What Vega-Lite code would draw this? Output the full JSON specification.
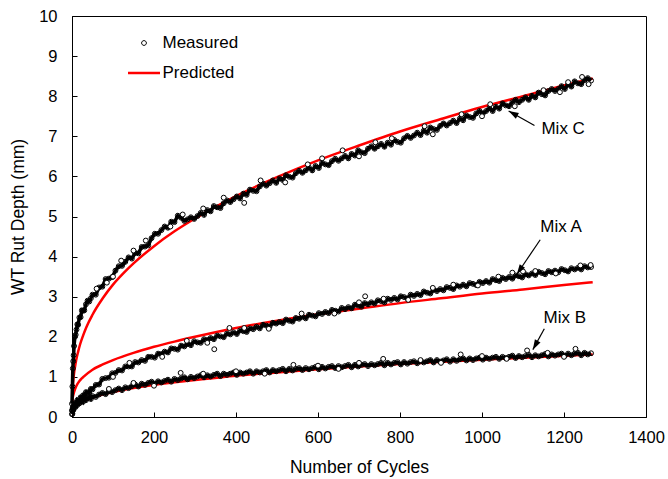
{
"$schema": "https://vega.github.io/schema/vega-lite/v6.json",
"width": 574, "height": 401,
"autosize": "none",
"padding": {"left": 72, "top": 16, "right": 22, "bottom": 62},
"background": "white",
"config": {
  "font": "Liberation Sans",
  "view": {"stroke": "black", "strokeWidth": 1},
  "axis": {"grid": false, "domainColor": "black", "tickColor": "black", "labelColor": "black", "titleColor": "black", "titleFontWeight": "normal", "labelFontSize": 16.5, "titleFontSize": 17.5, "tickSize": -5, "labelFlush": false, "labelFont": "Liberation Sans", "titleFont": "Liberation Sans"}
},
"datasets": {
"measured": [
{"s":"C","x":0,"y":0.33},{"s":"C","x":1,"y":0.76},{"s":"C","x":2,"y":1.21},{"s":"C","x":3,"y":1.39},{"s":"C","x":4,"y":1.54},{"s":"C","x":5,"y":1.77},{"s":"C","x":7,"y":2.0},{"s":"C","x":9,"y":2.05},{"s":"C","x":11,"y":2.18},{"s":"C","x":13,"y":2.31},{"s":"C","x":15,"y":2.3},{"s":"C","x":18,"y":2.48},{"s":"C","x":21,"y":2.49},{"s":"C","x":24,"y":2.66},{"s":"C","x":27,"y":2.65},{"s":"C","x":30,"y":2.66},{"s":"C","x":34,"y":2.81},{"s":"C","x":38,"y":2.9},{"s":"C","x":42,"y":2.88},{"s":"C","x":46,"y":2.96},{"s":"C","x":50,"y":3.05},
{"s":"C","x":58,"y":3.05},{"s":"C","x":66,"y":3.23},{"s":"C","x":74,"y":3.25},{"s":"C","x":82,"y":3.44},{"s":"C","x":90,"y":3.45},{"s":"C","x":98,"y":3.49},{"s":"C","x":106,"y":3.65},{"s":"C","x":114,"y":3.76},{"s":"C","x":122,"y":3.77},{"s":"C","x":130,"y":3.87},{"s":"C","x":138,"y":3.98},{"s":"C","x":146,"y":3.95},{"s":"C","x":154,"y":4.09},{"s":"C","x":162,"y":4.08},{"s":"C","x":170,"y":4.24},{"s":"C","x":178,"y":4.25},{"s":"C","x":186,"y":4.28},{"s":"C","x":194,"y":4.46},{"s":"C","x":202,"y":4.57},{"s":"C","x":210,"y":4.57},{"s":"C","x":218,"y":4.66},{"s":"C","x":226,"y":4.75},{"s":"C","x":234,"y":4.72},{"s":"C","x":242,"y":4.87},{"s":"C","x":250,"y":4.86},{"s":"C","x":258,"y":5.02},{"s":"C","x":266,"y":4.97},{"s":"C","x":274,"y":4.89},{"s":"C","x":282,"y":4.93},{"s":"C","x":290,"y":4.98},{"s":"C","x":298,"y":4.94},{"s":"C","x":306,"y":5.01},{"s":"C","x":314,"y":5.09},{"s":"C","x":322,"y":5.04},{"s":"C","x":330,"y":5.16},{"s":"C","x":338,"y":5.13},{"s":"C","x":346,"y":5.26},{"s":"C","x":354,"y":5.23},{"s":"C","x":362,"y":5.21},{"s":"C","x":370,"y":5.33},{"s":"C","x":378,"y":5.4},{"s":"C","x":386,"y":5.36},{"s":"C","x":394,"y":5.43},{"s":"C","x":402,"y":5.5},{"s":"C","x":410,"y":5.45},{"s":"C","x":418,"y":5.57},{"s":"C","x":426,"y":5.54},{"s":"C","x":434,"y":5.67},{"s":"C","x":442,"y":5.64},{"s":"C","x":450,"y":5.63},{"s":"C","x":458,"y":5.75},{"s":"C","x":466,"y":5.82},{"s":"C","x":474,"y":5.77},{"s":"C","x":482,"y":5.83},{"s":"C","x":490,"y":5.9},{"s":"C","x":498,"y":5.84},{"s":"C","x":506,"y":5.95},{"s":"C","x":514,"y":5.91},{"s":"C","x":522,"y":6.03},{"s":"C","x":530,"y":5.99},{"s":"C","x":538,"y":5.97},{"s":"C","x":546,"y":6.08},{"s":"C","x":554,"y":6.14},{"s":"C","x":562,"y":6.09},{"s":"C","x":570,"y":6.15},{"s":"C","x":578,"y":6.22},{"s":"C","x":586,"y":6.15},{"s":"C","x":594,"y":6.26},{"s":"C","x":602,"y":6.21},{"s":"C","x":610,"y":6.34},{"s":"C","x":618,"y":6.3},{"s":"C","x":626,"y":6.28},{"s":"C","x":634,"y":6.38},{"s":"C","x":642,"y":6.44},{"s":"C","x":650,"y":6.39},{"s":"C","x":658,"y":6.45},{"s":"C","x":666,"y":6.51},{"s":"C","x":674,"y":6.45},{"s":"C","x":682,"y":6.56},{"s":"C","x":690,"y":6.52},{"s":"C","x":698,"y":6.65},{"s":"C","x":706,"y":6.6},{"s":"C","x":714,"y":6.58},{"s":"C","x":722,"y":6.69},{"s":"C","x":730,"y":6.75},{"s":"C","x":738,"y":6.69},{"s":"C","x":746,"y":6.75},{"s":"C","x":754,"y":6.81},{"s":"C","x":762,"y":6.74},{"s":"C","x":770,"y":6.84},{"s":"C","x":778,"y":6.79},{"s":"C","x":786,"y":6.91},{"s":"C","x":794,"y":6.86},{"s":"C","x":802,"y":6.84},{"s":"C","x":810,"y":6.95},{"s":"C","x":818,"y":7.01},{"s":"C","x":826,"y":6.96},{"s":"C","x":834,"y":7.02},{"s":"C","x":842,"y":7.09},{"s":"C","x":850,"y":7.03},{"s":"C","x":858,"y":7.14},{"s":"C","x":866,"y":7.09},{"s":"C","x":874,"y":7.22},{"s":"C","x":882,"y":7.18},{"s":"C","x":890,"y":7.16},{"s":"C","x":898,"y":7.26},{"s":"C","x":906,"y":7.32},{"s":"C","x":914,"y":7.27},{"s":"C","x":922,"y":7.33},{"s":"C","x":930,"y":7.39},{"s":"C","x":938,"y":7.33},{"s":"C","x":946,"y":7.44},{"s":"C","x":954,"y":7.4},{"s":"C","x":962,"y":7.52},{"s":"C","x":970,"y":7.48},{"s":"C","x":978,"y":7.46},{"s":"C","x":986,"y":7.57},{"s":"C","x":994,"y":7.63},{"s":"C","x":1002,"y":7.57},{"s":"C","x":1010,"y":7.63},{"s":"C","x":1018,"y":7.7},{"s":"C","x":1026,"y":7.63},{"s":"C","x":1034,"y":7.74},{"s":"C","x":1042,"y":7.69},{"s":"C","x":1050,"y":7.82},{"s":"C","x":1058,"y":7.77},{"s":"C","x":1066,"y":7.75},{"s":"C","x":1074,"y":7.85},{"s":"C","x":1082,"y":7.91},{"s":"C","x":1090,"y":7.85},{"s":"C","x":1098,"y":7.91},{"s":"C","x":1106,"y":7.97},{"s":"C","x":1114,"y":7.91},{"s":"C","x":1122,"y":8.01},{"s":"C","x":1130,"y":7.97},{"s":"C","x":1138,"y":8.09},{"s":"C","x":1146,"y":8.05},{"s":"C","x":1154,"y":8.02},{"s":"C","x":1162,"y":8.13},{"s":"C","x":1170,"y":8.18},{"s":"C","x":1178,"y":8.13},{"s":"C","x":1186,"y":8.18},{"s":"C","x":1194,"y":8.25},{"s":"C","x":1202,"y":8.18},{"s":"C","x":1210,"y":8.29},{"s":"C","x":1218,"y":8.24},{"s":"C","x":1226,"y":8.37},{"s":"C","x":1234,"y":8.32},{"s":"C","x":1242,"y":8.3},{"s":"C","x":1250,"y":8.4},{"s":"C","x":1258,"y":8.45},{"s":"C","x":1266,"y":8.39},
{"s":"A","x":0,"y":0.17},{"s":"A","x":1,"y":0.15},{"s":"A","x":2,"y":0.24},{"s":"A","x":3,"y":0.23},{"s":"A","x":4,"y":0.21},{"s":"A","x":5,"y":0.3},{"s":"A","x":7,"y":0.29},{"s":"A","x":9,"y":0.35},{"s":"A","x":11,"y":0.33},{"s":"A","x":13,"y":0.42},{"s":"A","x":15,"y":0.4},{"s":"A","x":18,"y":0.39},{"s":"A","x":21,"y":0.49},{"s":"A","x":24,"y":0.48},{"s":"A","x":27,"y":0.54},{"s":"A","x":30,"y":0.52},{"s":"A","x":34,"y":0.62},{"s":"A","x":38,"y":0.61},{"s":"A","x":42,"y":0.6},{"s":"A","x":46,"y":0.7},{"s":"A","x":50,"y":0.69},
{"s":"A","x":58,"y":0.8},{"s":"A","x":66,"y":0.81},{"s":"A","x":74,"y":0.95},{"s":"A","x":82,"y":0.97},{"s":"A","x":90,"y":0.98},{"s":"A","x":98,"y":1.09},{"s":"A","x":106,"y":1.1},{"s":"A","x":114,"y":1.17},{"s":"A","x":122,"y":1.16},{"s":"A","x":130,"y":1.26},{"s":"A","x":138,"y":1.26},{"s":"A","x":146,"y":1.26},{"s":"A","x":154,"y":1.37},{"s":"A","x":162,"y":1.36},{"s":"A","x":170,"y":1.42},{"s":"A","x":178,"y":1.4},{"s":"A","x":186,"y":1.5},{"s":"A","x":194,"y":1.5},{"s":"A","x":202,"y":1.48},{"s":"A","x":210,"y":1.58},{"s":"A","x":218,"y":1.57},{"s":"A","x":226,"y":1.63},{"s":"A","x":234,"y":1.61},{"s":"A","x":242,"y":1.71},{"s":"A","x":250,"y":1.7},{"s":"A","x":258,"y":1.68},{"s":"A","x":266,"y":1.78},{"s":"A","x":274,"y":1.76},{"s":"A","x":282,"y":1.82},{"s":"A","x":290,"y":1.79},{"s":"A","x":298,"y":1.89},{"s":"A","x":306,"y":1.86},{"s":"A","x":314,"y":1.85},{"s":"A","x":322,"y":1.94},{"s":"A","x":330,"y":1.92},{"s":"A","x":338,"y":1.97},{"s":"A","x":346,"y":1.94},{"s":"A","x":354,"y":2.03},{"s":"A","x":362,"y":2.01},{"s":"A","x":370,"y":1.99},{"s":"A","x":378,"y":2.08},{"s":"A","x":386,"y":2.06},{"s":"A","x":394,"y":2.11},{"s":"A","x":402,"y":2.07},{"s":"A","x":410,"y":2.16},{"s":"A","x":418,"y":2.14},{"s":"A","x":426,"y":2.12},{"s":"A","x":434,"y":2.21},{"s":"A","x":442,"y":2.19},{"s":"A","x":450,"y":2.25},{"s":"A","x":458,"y":2.21},{"s":"A","x":466,"y":2.3},{"s":"A","x":474,"y":2.28},{"s":"A","x":482,"y":2.26},{"s":"A","x":490,"y":2.35},{"s":"A","x":498,"y":2.33},{"s":"A","x":506,"y":2.37},{"s":"A","x":514,"y":2.34},{"s":"A","x":522,"y":2.43},{"s":"A","x":530,"y":2.4},{"s":"A","x":538,"y":2.38},{"s":"A","x":546,"y":2.47},{"s":"A","x":554,"y":2.45},{"s":"A","x":562,"y":2.5},{"s":"A","x":570,"y":2.46},{"s":"A","x":578,"y":2.55},{"s":"A","x":586,"y":2.53},{"s":"A","x":594,"y":2.51},{"s":"A","x":602,"y":2.59},{"s":"A","x":610,"y":2.57},{"s":"A","x":618,"y":2.62},{"s":"A","x":626,"y":2.59},{"s":"A","x":634,"y":2.67},{"s":"A","x":642,"y":2.65},{"s":"A","x":650,"y":2.63},{"s":"A","x":658,"y":2.72},{"s":"A","x":666,"y":2.69},{"s":"A","x":674,"y":2.74},{"s":"A","x":682,"y":2.71},{"s":"A","x":690,"y":2.8},{"s":"A","x":698,"y":2.78},{"s":"A","x":706,"y":2.75},{"s":"A","x":714,"y":2.84},{"s":"A","x":722,"y":2.81},{"s":"A","x":730,"y":2.86},{"s":"A","x":738,"y":2.83},{"s":"A","x":746,"y":2.91},{"s":"A","x":754,"y":2.89},{"s":"A","x":762,"y":2.86},{"s":"A","x":770,"y":2.95},{"s":"A","x":778,"y":2.92},{"s":"A","x":786,"y":2.97},{"s":"A","x":794,"y":2.93},{"s":"A","x":802,"y":3.01},{"s":"A","x":810,"y":2.99},{"s":"A","x":818,"y":2.96},{"s":"A","x":826,"y":3.05},{"s":"A","x":834,"y":3.02},{"s":"A","x":842,"y":3.07},{"s":"A","x":850,"y":3.04},{"s":"A","x":858,"y":3.13},{"s":"A","x":866,"y":3.1},{"s":"A","x":874,"y":3.08},{"s":"A","x":882,"y":3.17},{"s":"A","x":890,"y":3.14},{"s":"A","x":898,"y":3.19},{"s":"A","x":906,"y":3.16},{"s":"A","x":914,"y":3.24},{"s":"A","x":922,"y":3.22},{"s":"A","x":930,"y":3.19},{"s":"A","x":938,"y":3.28},{"s":"A","x":946,"y":3.25},{"s":"A","x":954,"y":3.3},{"s":"A","x":962,"y":3.26},{"s":"A","x":970,"y":3.34},{"s":"A","x":978,"y":3.32},{"s":"A","x":986,"y":3.29},{"s":"A","x":994,"y":3.37},{"s":"A","x":1002,"y":3.34},{"s":"A","x":1010,"y":3.39},{"s":"A","x":1018,"y":3.35},{"s":"A","x":1026,"y":3.44},{"s":"A","x":1034,"y":3.41},{"s":"A","x":1042,"y":3.39},{"s":"A","x":1050,"y":3.47},{"s":"A","x":1058,"y":3.44},{"s":"A","x":1066,"y":3.49},{"s":"A","x":1074,"y":3.45},{"s":"A","x":1082,"y":3.53},{"s":"A","x":1090,"y":3.51},{"s":"A","x":1098,"y":3.48},{"s":"A","x":1106,"y":3.56},{"s":"A","x":1114,"y":3.53},{"s":"A","x":1122,"y":3.58},{"s":"A","x":1130,"y":3.54},{"s":"A","x":1138,"y":3.62},{"s":"A","x":1146,"y":3.59},{"s":"A","x":1154,"y":3.56},{"s":"A","x":1162,"y":3.64},{"s":"A","x":1170,"y":3.61},{"s":"A","x":1178,"y":3.65},{"s":"A","x":1186,"y":3.61},{"s":"A","x":1194,"y":3.69},{"s":"A","x":1202,"y":3.66},{"s":"A","x":1210,"y":3.63},{"s":"A","x":1218,"y":3.71},{"s":"A","x":1226,"y":3.68},{"s":"A","x":1234,"y":3.72},{"s":"A","x":1242,"y":3.68},{"s":"A","x":1250,"y":3.76},{"s":"A","x":1258,"y":3.73},{"s":"A","x":1266,"y":3.74},
{"s":"B","x":0,"y":0.07},{"s":"B","x":1,"y":0.08},{"s":"B","x":2,"y":0.16},{"s":"B","x":3,"y":0.22},{"s":"B","x":4,"y":0.19},{"s":"B","x":5,"y":0.26},{"s":"B","x":7,"y":0.25},{"s":"B","x":9,"y":0.3},{"s":"B","x":11,"y":0.34},{"s":"B","x":13,"y":0.3},{"s":"B","x":15,"y":0.36},{"s":"B","x":18,"y":0.34},{"s":"B","x":21,"y":0.39},{"s":"B","x":24,"y":0.43},{"s":"B","x":27,"y":0.38},{"s":"B","x":30,"y":0.45},{"s":"B","x":34,"y":0.42},{"s":"B","x":38,"y":0.47},{"s":"B","x":42,"y":0.5},{"s":"B","x":46,"y":0.45},{"s":"B","x":50,"y":0.52},
{"s":"B","x":58,"y":0.5},{"s":"B","x":66,"y":0.56},{"s":"B","x":74,"y":0.6},{"s":"B","x":82,"y":0.57},{"s":"B","x":90,"y":0.64},{"s":"B","x":98,"y":0.62},{"s":"B","x":106,"y":0.67},{"s":"B","x":114,"y":0.71},{"s":"B","x":122,"y":0.67},{"s":"B","x":130,"y":0.74},{"s":"B","x":138,"y":0.72},{"s":"B","x":146,"y":0.77},{"s":"B","x":154,"y":0.81},{"s":"B","x":162,"y":0.76},{"s":"B","x":170,"y":0.83},{"s":"B","x":178,"y":0.8},{"s":"B","x":186,"y":0.85},{"s":"B","x":194,"y":0.88},{"s":"B","x":202,"y":0.83},{"s":"B","x":210,"y":0.89},{"s":"B","x":218,"y":0.86},{"s":"B","x":226,"y":0.9},{"s":"B","x":234,"y":0.93},{"s":"B","x":242,"y":0.88},{"s":"B","x":250,"y":0.95},{"s":"B","x":258,"y":0.92},{"s":"B","x":266,"y":0.96},{"s":"B","x":274,"y":0.99},{"s":"B","x":282,"y":0.94},{"s":"B","x":290,"y":1.0},{"s":"B","x":298,"y":0.97},{"s":"B","x":306,"y":1.01},{"s":"B","x":314,"y":1.04},{"s":"B","x":322,"y":0.99},{"s":"B","x":330,"y":1.04},{"s":"B","x":338,"y":1.01},{"s":"B","x":346,"y":1.05},{"s":"B","x":354,"y":1.08},{"s":"B","x":362,"y":1.02},{"s":"B","x":370,"y":1.08},{"s":"B","x":378,"y":1.05},{"s":"B","x":386,"y":1.08},{"s":"B","x":394,"y":1.11},{"s":"B","x":402,"y":1.05},{"s":"B","x":410,"y":1.11},{"s":"B","x":418,"y":1.08},{"s":"B","x":426,"y":1.11},{"s":"B","x":434,"y":1.14},{"s":"B","x":442,"y":1.08},{"s":"B","x":450,"y":1.14},{"s":"B","x":458,"y":1.11},{"s":"B","x":466,"y":1.14},{"s":"B","x":474,"y":1.17},{"s":"B","x":482,"y":1.11},{"s":"B","x":490,"y":1.17},{"s":"B","x":498,"y":1.14},{"s":"B","x":506,"y":1.17},{"s":"B","x":514,"y":1.2},{"s":"B","x":522,"y":1.14},{"s":"B","x":530,"y":1.2},{"s":"B","x":538,"y":1.16},{"s":"B","x":546,"y":1.2},{"s":"B","x":554,"y":1.22},{"s":"B","x":562,"y":1.17},{"s":"B","x":570,"y":1.22},{"s":"B","x":578,"y":1.19},{"s":"B","x":586,"y":1.22},{"s":"B","x":594,"y":1.25},{"s":"B","x":602,"y":1.19},{"s":"B","x":610,"y":1.25},{"s":"B","x":618,"y":1.21},{"s":"B","x":626,"y":1.25},{"s":"B","x":634,"y":1.27},{"s":"B","x":642,"y":1.22},{"s":"B","x":650,"y":1.27},{"s":"B","x":658,"y":1.24},{"s":"B","x":666,"y":1.27},{"s":"B","x":674,"y":1.3},{"s":"B","x":682,"y":1.24},{"s":"B","x":690,"y":1.3},{"s":"B","x":698,"y":1.26},{"s":"B","x":706,"y":1.3},{"s":"B","x":714,"y":1.32},{"s":"B","x":722,"y":1.27},{"s":"B","x":730,"y":1.32},{"s":"B","x":738,"y":1.29},{"s":"B","x":746,"y":1.32},{"s":"B","x":754,"y":1.35},{"s":"B","x":762,"y":1.29},{"s":"B","x":770,"y":1.35},{"s":"B","x":778,"y":1.31},{"s":"B","x":786,"y":1.35},{"s":"B","x":794,"y":1.37},{"s":"B","x":802,"y":1.31},{"s":"B","x":810,"y":1.37},{"s":"B","x":818,"y":1.33},{"s":"B","x":826,"y":1.37},{"s":"B","x":834,"y":1.39},{"s":"B","x":842,"y":1.34},{"s":"B","x":850,"y":1.39},{"s":"B","x":858,"y":1.36},{"s":"B","x":866,"y":1.39},{"s":"B","x":874,"y":1.42},{"s":"B","x":882,"y":1.36},{"s":"B","x":890,"y":1.42},{"s":"B","x":898,"y":1.38},{"s":"B","x":906,"y":1.41},{"s":"B","x":914,"y":1.44},{"s":"B","x":922,"y":1.38},{"s":"B","x":930,"y":1.44},{"s":"B","x":938,"y":1.4},{"s":"B","x":946,"y":1.44},{"s":"B","x":954,"y":1.46},{"s":"B","x":962,"y":1.41},{"s":"B","x":970,"y":1.46},{"s":"B","x":978,"y":1.42},{"s":"B","x":986,"y":1.46},{"s":"B","x":994,"y":1.48},{"s":"B","x":1002,"y":1.43},{"s":"B","x":1010,"y":1.48},{"s":"B","x":1018,"y":1.45},{"s":"B","x":1026,"y":1.48},{"s":"B","x":1034,"y":1.5},{"s":"B","x":1042,"y":1.45},{"s":"B","x":1050,"y":1.5},{"s":"B","x":1058,"y":1.47},{"s":"B","x":1066,"y":1.5},{"s":"B","x":1074,"y":1.53},{"s":"B","x":1082,"y":1.47},{"s":"B","x":1090,"y":1.52},{"s":"B","x":1098,"y":1.49},{"s":"B","x":1106,"y":1.52},{"s":"B","x":1114,"y":1.55},{"s":"B","x":1122,"y":1.49},{"s":"B","x":1130,"y":1.54},{"s":"B","x":1138,"y":1.51},{"s":"B","x":1146,"y":1.54},{"s":"B","x":1154,"y":1.57},{"s":"B","x":1162,"y":1.51},{"s":"B","x":1170,"y":1.56},{"s":"B","x":1178,"y":1.53},{"s":"B","x":1186,"y":1.56},{"s":"B","x":1194,"y":1.58},{"s":"B","x":1202,"y":1.53},{"s":"B","x":1210,"y":1.58},{"s":"B","x":1218,"y":1.54},{"s":"B","x":1226,"y":1.58},{"s":"B","x":1234,"y":1.6},{"s":"B","x":1242,"y":1.54},{"s":"B","x":1250,"y":1.6},{"s":"B","x":1258,"y":1.56},{"s":"B","x":1266,"y":1.59}
],
"outliers": [
{"s":"C","x":150,"y":4.15},{"s":"C","x":370,"y":5.47},{"s":"C","x":420,"y":5.34},{"s":"C","x":575,"y":6.3},{"s":"C","x":660,"y":6.65},{"s":"C","x":1244,"y":8.48},
{"s":"C","x":60,"y":3.2},{"s":"C","x":85,"y":3.35},{"s":"C","x":100,"y":3.5},{"s":"C","x":120,"y":3.9},{"s":"C","x":180,"y":4.4},{"s":"C","x":240,"y":4.75},{"s":"C","x":270,"y":5.05},{"s":"C","x":320,"y":5.2},{"s":"C","x":460,"y":5.9},{"s":"C","x":520,"y":5.85},{"s":"C","x":610,"y":6.45},{"s":"C","x":700,"y":6.5},{"s":"C","x":740,"y":6.85},{"s":"C","x":780,"y":6.95},{"s":"C","x":860,"y":7.25},{"s":"C","x":880,"y":7.05},{"s":"C","x":950,"y":7.55},{"s":"C","x":1000,"y":7.5},{"s":"C","x":1020,"y":7.8},{"s":"C","x":1080,"y":7.75},{"s":"C","x":1150,"y":8.15},{"s":"C","x":1190,"y":8.1},{"s":"C","x":1210,"y":8.35},{"s":"C","x":1260,"y":8.3},
{"s":"A","x":347,"y":1.69},{"s":"A","x":384,"y":2.22},{"s":"A","x":715,"y":3.01},{"s":"A","x":1074,"y":3.6},{"s":"A","x":1100,"y":3.63},
{"s":"A","x":100,"y":1.0},{"s":"A","x":140,"y":1.35},{"s":"A","x":220,"y":1.5},{"s":"A","x":280,"y":1.9},{"s":"A","x":330,"y":1.85},{"s":"A","x":420,"y":2.22},{"s":"A","x":480,"y":2.2},{"s":"A","x":560,"y":2.58},{"s":"A","x":640,"y":2.58},{"s":"A","x":700,"y":2.86},{"s":"A","x":760,"y":2.95},{"s":"A","x":820,"y":2.92},{"s":"A","x":880,"y":3.22},{"s":"A","x":930,"y":3.3},{"s":"A","x":990,"y":3.28},{"s":"A","x":1040,"y":3.5},{"s":"A","x":1130,"y":3.64},{"s":"A","x":1180,"y":3.58},{"s":"A","x":1240,"y":3.78},{"s":"A","x":1265,"y":3.79},
{"s":"B","x":265,"y":1.1},{"s":"B","x":540,"y":1.3},{"s":"B","x":759,"y":1.45},{"s":"B","x":948,"y":1.56},{"s":"B","x":1110,"y":1.66},{"s":"B","x":1228,"y":1.7},
{"s":"B","x":90,"y":0.7},{"s":"B","x":150,"y":0.85},{"s":"B","x":200,"y":0.78},{"s":"B","x":320,"y":1.08},{"s":"B","x":400,"y":1.14},{"s":"B","x":470,"y":1.08},{"s":"B","x":600,"y":1.28},{"s":"B","x":650,"y":1.2},{"s":"B","x":700,"y":1.35},{"s":"B","x":850,"y":1.42},{"s":"B","x":900,"y":1.35},{"s":"B","x":1000,"y":1.52},{"s":"B","x":1060,"y":1.45},{"s":"B","x":1160,"y":1.6},{"s":"B","x":1200,"y":1.5}
],
"predicted": [
{"s":"C","x":0,"y":0.25},{"s":"C","x":0.5,"y":0.46},{"s":"C","x":1,"y":0.6},{"s":"C","x":2,"y":0.78},{"s":"C","x":3.5,"y":0.95},{"s":"C","x":5,"y":1.09},{"s":"C","x":7.5,"y":1.26},{"s":"C","x":10,"y":1.41},{"s":"C","x":15,"y":1.63},{"s":"C","x":20,"y":1.82},{"s":"C","x":27,"y":2.03},{"s":"C","x":35,"y":2.24},{"s":"C","x":50,"y":2.55},{"s":"C","x":75,"y":2.96},{"s":"C","x":100,"y":3.3},{"s":"C","x":125,"y":3.58},{"s":"C","x":150,"y":3.83},{"s":"C","x":200,"y":4.26},{"s":"C","x":250,"y":4.63},{"s":"C","x":300,"y":4.95},{"s":"C","x":350,"y":5.24},{"s":"C","x":400,"y":5.51},{"s":"C","x":500,"y":5.98},{"s":"C","x":600,"y":6.4},{"s":"C","x":700,"y":6.77},{"s":"C","x":800,"y":7.12},{"s":"C","x":900,"y":7.43},{"s":"C","x":1000,"y":7.73},{"s":"C","x":1100,"y":8.0},{"s":"C","x":1200,"y":8.27},{"s":"C","x":1270,"y":8.44},
{"s":"A","x":0,"y":0.28},{"s":"A","x":1,"y":0.45},{"s":"A","x":2,"y":0.5},{"s":"A","x":5,"y":0.62},{"s":"A","x":10,"y":0.76},{"s":"A","x":20,"y":0.92},{"s":"A","x":30,"y":1.02},{"s":"A","x":50,"y":1.18},{"s":"A","x":75,"y":1.31},{"s":"A","x":100,"y":1.42},{"s":"A","x":150,"y":1.6},{"s":"A","x":200,"y":1.75},{"s":"A","x":250,"y":1.88},{"s":"A","x":300,"y":2.0},{"s":"A","x":400,"y":2.22},{"s":"A","x":500,"y":2.4},{"s":"A","x":600,"y":2.56},{"s":"A","x":700,"y":2.7},{"s":"A","x":800,"y":2.84},{"s":"A","x":900,"y":2.96},{"s":"A","x":1000,"y":3.08},{"s":"A","x":1100,"y":3.18},{"s":"A","x":1200,"y":3.29},{"s":"A","x":1270,"y":3.36},
{"s":"B","x":0,"y":0.05},{"s":"B","x":1,"y":0.12},{"s":"B","x":2,"y":0.15},{"s":"B","x":5,"y":0.21},{"s":"B","x":10,"y":0.27},{"s":"B","x":20,"y":0.35},{"s":"B","x":50,"y":0.48},{"s":"B","x":100,"y":0.62},{"s":"B","x":200,"y":0.8},{"s":"B","x":300,"y":0.92},{"s":"B","x":400,"y":1.03},{"s":"B","x":500,"y":1.11},{"s":"B","x":600,"y":1.19},{"s":"B","x":800,"y":1.32},{"s":"B","x":1000,"y":1.43},{"s":"B","x":1270,"y":1.56}
],
"notes": [
{"label":"Mix C","tx":1198,"ty":7.18,"x":1128,"y":7.27,"x2":1065,"y2":7.63},
{"label":"Mix A","tx":1193,"ty":4.73,"x":1142,"y":4.42,"x2":1085,"y2":3.56},
{"label":"Mix B","tx":1202,"ty":2.48,"x":1152,"y":2.2,"x2":1124,"y2":1.68}
]
},
"layer": [
{
 "data": {"name": "predicted"},
 "mark": {"type": "line", "strokeWidth": 2.5, "interpolate": "monotone", "clip": true},
 "encoding": {
  "x": {"field": "x", "type": "quantitative", "scale": {"domain": [0, 1400], "nice": false},
        "axis": {"title": "Number of Cycles", "format": "d", "values": [0,200,400,600,800,1000,1200,1400], "labelPadding": 17, "titleY": 55, "titleBaseline": "alphabetic"}},
  "y": {"field": "y", "type": "quantitative", "scale": {"domain": [0, 10], "nice": false},
        "axis": {"title": "WT Rut Depth (mm)", "values": [0,1,2,3,4,5,6,7,8,9,10], "labelPadding": 20, "titleX": -49, "titleY": 200.5, "titleAngle": -90, "titleBaseline": "alphabetic", "titleAlign": "center"}},
  "detail": {"field": "s"},
  "color": {"datum": "Predicted", "type": "nominal",
    "scale": {"domain": ["Measured", "Predicted"], "range": ["black", "#ff0000"]},
    "legend": {"title": null, "orient": "none", "legendX": 56, "legendY": 12, "symbolSize": 1024, "clipHeight": 30, "rowPadding": 0, "labelFontSize": 17, "labelOffset": 10, "symbolOffset": 7.5, "labelColor": "black", "labelFont": "Liberation Sans",
      "symbolType": "circle",
      "encode": {"symbols": {"update": {
        "shape": {"signal": "datum.value === 'Predicted' ? 'M-1,0L1,0' : 'M0.15,0A0.15,0.15,0,1,1,-0.15,0A0.15,0.15,0,1,1,0.15,0Z'"},
        "size": {"value": 1024},
        "strokeWidth": {"signal": "datum.value === 'Predicted' ? 2.5 : 1"},
        "fill": {"value": "transparent"},
        "fillOpacity": {"value": 0},
        "stroke": {"signal": "datum.value === 'Predicted' ? '#ff0000' : 'black'"},
        "opacity": {"value": 1}
      }}}}}
 }
},
{
 "data": {"name": "measured"},
 "mark": {"type": "line", "color": "black", "strokeWidth": 3.5, "interpolate": "linear"},
 "encoding": {
  "x": {"field": "x", "type": "quantitative"},
  "y": {"field": "y", "type": "quantitative"},
  "detail": {"field": "s"}
 }
},
{
 "data": {"name": "measured"},
 "mark": {"type": "point", "filled": false, "size": 24, "strokeWidth": 1, "opacity": 1},
 "encoding": {
  "x": {"field": "x", "type": "quantitative"},
  "y": {"field": "y", "type": "quantitative"},
  "color": {"datum": "Measured", "type": "nominal"}
 }
},
{
 "data": {"name": "outliers"},
 "mark": {"type": "point", "filled": true, "fill": "white", "stroke": "black", "size": 24, "strokeWidth": 1, "opacity": 1, "fillOpacity": 1},
 "encoding": {
  "x": {"field": "x", "type": "quantitative"},
  "y": {"field": "y", "type": "quantitative"}
 }
},
{
 "data": {"name": "notes"},
 "mark": {"type": "rule", "color": "black", "strokeWidth": 1.2},
 "encoding": {
  "x": {"field": "x", "type": "quantitative"},
  "y": {"field": "y", "type": "quantitative"},
  "x2": {"field": "x2"},
  "y2": {"field": "y2"}
 }
},
{
 "data": {"name": "notes"},
 "transform": [{"filter": "datum.label === 'Mix C'"}],
 "mark": {"type": "point", "shape": "M0,0L0.32,1L-0.32,1Z", "filled": true, "color": "black", "size": 400, "angle": 299, "opacity": 1},
 "encoding": {"x": {"field": "x2", "type": "quantitative"}, "y": {"field": "y2", "type": "quantitative"}}
},
{
 "data": {"name": "notes"},
 "transform": [{"filter": "datum.label === 'Mix A'"}],
 "mark": {"type": "point", "shape": "M0,0L0.32,1L-0.32,1Z", "filled": true, "color": "black", "size": 400, "angle": 213.5, "opacity": 1},
 "encoding": {"x": {"field": "x2", "type": "quantitative"}, "y": {"field": "y2", "type": "quantitative"}}
},
{
 "data": {"name": "notes"},
 "transform": [{"filter": "datum.label === 'Mix B'"}],
 "mark": {"type": "point", "shape": "M0,0L0.32,1L-0.32,1Z", "filled": true, "color": "black", "size": 400, "angle": 209, "opacity": 1},
 "encoding": {"x": {"field": "x2", "type": "quantitative"}, "y": {"field": "y2", "type": "quantitative"}}
},
{
 "data": {"name": "notes"},
 "mark": {"type": "text", "fontSize": 17, "font": "Liberation Sans", "color": "black", "align": "center", "baseline": "middle"},
 "encoding": {
  "x": {"field": "tx", "type": "quantitative"},
  "y": {"field": "ty", "type": "quantitative"},
  "text": {"field": "label"}
 }
}
]
}
